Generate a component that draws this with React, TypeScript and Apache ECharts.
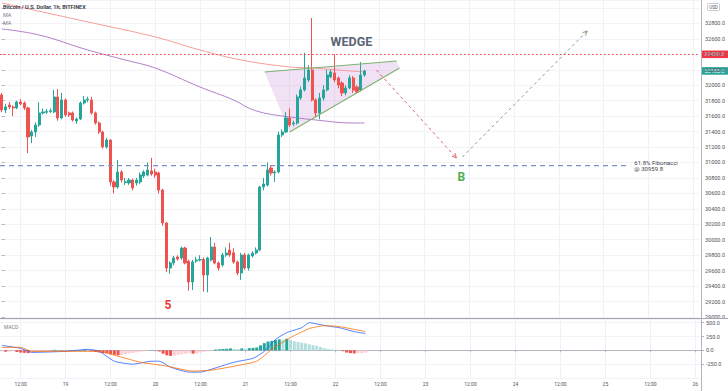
import React, { useEffect, useRef } from "react";
import * as echarts from "echarts";

const FONT = "Roboto, 'Noto Sans', sans-serif";
const START_DAY = 18;
const START_HOUR = 7;
const HOURS = 187;
const categories: string[] = Array.from({ length: HOURS }, (_, k) => {
  const t = START_HOUR + k;
  const d = START_DAY + Math.floor(t / 24);
  const h = t % 24;
  return `${d} ${String(h).padStart(2, "0")}:00`;
});

const opens = [
  31874, 31680, 31744, 31718, 31706, 31783, 31770, 31706, 31343, 31395,
  31485, 31641, 31650, 31660, 31654, 31848, 31576, 31809, 31641, 31641,
  31537, 31563, 31770, 31809, 31809, 31641, 31511, 31395, 31201, 31291,
  30748, 30683, 30877, 30740, 30735, 30773, 30735, 30748, 30825, 30838,
  30890, 30877, 30864, 30644, 30217, 29634, 29699, 29777, 29764, 29893,
  29720, 29453, 29725, 29738, 29745, 29544, 29738, 29906, 29699, 29673,
  29803, 29867, 29830, 29712, 29570, 29803, 29634, 29790, 29828, 29867,
  30683, 30709, 30929, 30864, 30877, 31356, 31395, 31576, 31500, 31511,
  31835, 31939, 32068, 32197, 31809, 31641, 31835, 31939, 32107, 32159,
  32094, 32029, 31900, 31964, 32094, 31977, 31939, 32133,
];
const closes = [
  31680, 31718, 31718, 31706, 31783, 31757, 31706, 31330, 31395, 31485,
  31641, 31654, 31660, 31670, 31848, 31576, 31809, 31615, 31615, 31550,
  31563, 31770, 31809, 31820, 31641, 31511, 31395, 31201, 31291, 30748,
  30683, 30877, 30773, 30750, 30773, 30670, 30773, 30838, 30877, 30903,
  30851, 30838, 30644, 30217, 29634, 29699, 29764, 29751, 29893, 29700,
  29453, 29712, 29738, 29745, 29544, 29764, 29906, 29699, 29634, 29803,
  29828, 29803, 29712, 29570, 29803, 29634, 29803, 29828, 29867, 30683,
  30722, 30903, 30864, 30877, 31356, 31395, 31576, 31485, 31511, 31848,
  31939, 32094, 32197, 31809, 31641, 31835, 31939, 32133, 32172, 32068,
  32003, 31900, 31964, 32094, 31939, 31913, 32133, 32185,
];
const highs = [
  31900, 31760, 31780, 31740, 31800, 31820, 31790, 31720, 31420, 31520,
  31780, 31700, 31690, 31700, 31939, 31950, 31900, 31830, 31660, 31660,
  31580, 31790, 31860, 31850, 31850, 31660, 31530, 31410, 31320, 31300,
  30770, 31032, 30900, 30800, 30800, 30790, 30800, 30870, 30900, 31000,
  31060, 30920, 30880, 30660, 30230, 29720, 29790, 29800, 29910, 29910,
  29740, 29740, 29780, 29800, 29770, 29780, 30036, 29960, 29720, 29830,
  29900, 29960, 29890, 29730, 29830, 29830, 29820, 29850, 29900, 30700,
  30800, 31000, 30960, 30900, 31400, 31430, 31650, 31700, 31540, 31880,
  31980, 32420, 32260, 32870, 31830, 31900, 32000, 32200, 32200, 32400,
  32110, 32050, 32000, 32130, 32120, 32000, 32300, 32200,
];
const lows = [
  31650, 31640, 31690, 31600, 31690, 31740, 31680, 31120, 31250, 31330,
  31460, 31620, 31630, 31640, 31640, 31540, 31560, 31590, 31590, 31530,
  31500, 31550, 31750, 31780, 31620, 31490, 31370, 31180, 31180, 30700,
  30600, 30660, 30740, 30710, 30710, 30640, 30700, 30720, 30800, 30820,
  30830, 30800, 30600, 30180, 29580, 29560, 29670, 29730, 29740, 29680,
  29340, 29350, 29700, 29720, 29330, 29320, 29720, 29680, 29600, 29650,
  29780, 29780, 29690, 29540, 29480, 29610, 29600, 29770, 29810, 29850,
  30640, 30690, 30830, 30750, 30860, 31330, 31380, 31460, 31470, 31490,
  31810, 31920, 32040, 31790, 31580, 31560, 31800, 31920, 32090, 32040,
  31960, 31860, 31870, 31950, 31900, 31890, 31920, 32110,
];

const macdHist = [
  -20, -25, -25, -15, -30, -40, -45, -50, -45, -30,
  -20, -15, -10, -5, 10, 5, -5, -3, -5, -5,
  -3, 5, 15, 10, -10, -30, -40, -50, -55, -70,
  -80, -90, -85, -70, -55, -45, -35, -25, -15, -5,
  5, 3, -20, -60, -90, -100, -95, -80, -70, -60,
  -50, -60, -55, -35, -25, -15, -5, 15, 20, 25,
  30, 35, 30, 25, 35, 30, 40, 45, 50, 90,
  130, 160, 170, 185, 200, 195, 210, 190, 165, 150,
  140, 125, 110, 95, 80, 60, 40, 25, 15, 10,
  5, -15, -40, -50, -55, -50, -50, -40,
];
const macdLine = [
  [0, 89], [5, 36], [8, -36], [17, -18], [23, 18], [26, -18], [30, -196], [35, -250],
  [40, -196], [42, -196], [45, -304], [50, -393], [53, -393], [56, -339], [62, -214],
  [67, -143], [70, -18], [73, 196], [76, 321], [80, 410], [82, 500], [85, 464],
  [88, 429], [90, 410], [94, 339], [97, 304],
];
const signalLine = [
  [0, 54], [5, 54], [8, -18], [17, -18], [26, -18], [31, -107], [37, -214], [44, -286],
  [51, -375], [56, -357], [62, -286], [68, -196], [72, 18], [77, 232], [82, 393],
  [86, 446], [90, 429], [97, 339],
];
const maRed = [
  [0, 33065], [6, 33000], [23, 32819], [41, 32625], [53, 32456], [64, 32327],
  [77, 32236], [83, 32223], [93, 32185], [97, 32172],
];
const maPurple = [
  [0, 32728], [10, 32650], [23, 32456], [33, 32327], [41, 32223], [53, 31977],
  [62, 31809], [66, 31706], [69, 31654], [73, 31615], [84, 31550], [94, 31511], [97, 31511],
];

const RESISTANCE = 32400;
const LAST_PRICE = 32185;
const FIB = 30959.8;
const wedgeTop = [[70.3, 32172], [105.6, 32314]];
const wedgeBottom = [[77, 31395], [106.4, 32223]];
const redArrow = [[100.2, 32197], [121.6, 31058]];
const greenArrow = [[123.2, 31071], [156.6, 32702]];
const fibLineEnd = 168;
const labels = {
  wedge: { text: "WEDGE", at: [93.5, 32572] },
  five: { text: "5", at: [44.4, 29155] },
  b: { text: "B", at: [122.9, 30812] },
  fib: { text: "61.8% Fibonacci\n@ 30959.8", at: [169.2, FIB] },
};

const isLabelHour = (_i: number, v: string) => v.endsWith(" 00:00") || v.endsWith(" 12:00");
const fmtHour = (v: string) => (v.endsWith(" 00:00") ? v.split(" ")[0] : "12:00");

function chevron(p0: number[], p1: number[], size: number) {
  const dx = p1[0] - p0[0];
  const dy = p1[1] - p0[1];
  const len = Math.hypot(dx, dy);
  const ux = dx / len;
  const uy = dy / len;
  const a = Math.PI / 7;
  const rot = (ang: number) => [
    p1[0] - size * (ux * Math.cos(ang) - uy * Math.sin(ang)),
    p1[1] - size * (ux * Math.sin(ang) + uy * Math.cos(ang)),
  ];
  return [rot(a), p1, rot(-a)];
}

export default function App() {
  const ref = useRef<HTMLDivElement>(null);
  useEffect(() => {
    if (!ref.current) return;
    const chart = echarts.init(ref.current, undefined, { renderer: "svg" });
    const candleData = opens.map((o, i) => [o, closes[i], lows[i], highs[i]]);
    const axisLabelColor = "#50535e";
    const option: any = {
      animation: false,
      backgroundColor: "#ffffff",
      grid: [
        { left: 0, top: 0, width: 701, height: 317 },
        { left: 0, top: 319, width: 701, height: 59 },
      ],
      xAxis: [
        {
          type: "category", gridIndex: 0, data: categories, boundaryGap: true,
          axisLine: { show: false }, axisTick: { show: false }, axisLabel: { show: false },
          splitLine: { show: true, interval: isLabelHour, alignWithLabel: true, lineStyle: { color: "#eff1f6", width: 1 } },
        },
        { type: "value", gridIndex: 0, min: -0.5, max: HOURS - 0.5, show: false },
        {
          type: "category", gridIndex: 1, data: categories, boundaryGap: true,
          axisLine: { show: true, lineStyle: { color: "#b2b5be", width: 1 } },
          axisTick: { show: true, interval: isLabelHour, alignWithLabel: true, length: 2, lineStyle: { color: "#b2b5be" } },
          axisLabel: { show: true, interval: isLabelHour, formatter: fmtHour, fontSize: 5, color: axisLabelColor, margin: 3, fontFamily: FONT },
          splitLine: { show: true, interval: isLabelHour, alignWithLabel: true, lineStyle: { color: "#eff1f6", width: 1 } },
        },
      ],
      yAxis: [
        {
          type: "value", gridIndex: 0, position: "right", min: 29000, max: 33103, interval: 200,
          axisLine: { show: false },
          axisTick: { show: true, length: 3, lineStyle: { color: "#b2b5be" } },
          axisLabel: {
            show: true, showMaxLabel: false, fontSize: 5.5, color: axisLabelColor, margin: 6, fontFamily: FONT,
            formatter: (v: number) => (v >= 33000 ? "" : v.toFixed(1)),
          },
          splitLine: { show: true, lineStyle: { color: "#f2f3f7", width: 1 } },
        },
        {
          type: "value", gridIndex: 1, position: "right", min: -500, max: 567, interval: 250,
          axisLine: { show: false },
          axisTick: { show: true, length: 3, lineStyle: { color: "#b2b5be" } },
          axisLabel: { show: true, showMaxLabel: false, showMinLabel: false, fontSize: 5.5, color: axisLabelColor, margin: 5, fontFamily: FONT, formatter: (v: number) => v.toFixed(1) },
          splitLine: { show: true, lineStyle: { color: "#f2f3f7", width: 1 } },
        },
      ],
      series: [
        {
          type: "custom", name: "wedgeFill", xAxisIndex: 1, yAxisIndex: 0, z: 1, silent: true,
          data: [[100, 31000]],
          renderItem: (_p: any, api: any) => {
            const A = api.coord(wedgeTop[0]);
            const B = api.coord(wedgeTop[1]);
            const C = api.coord(wedgeBottom[1]);
            const D = api.coord(wedgeBottom[0]);
            return { type: "polygon", shape: { points: [A, B, C, D] }, style: { fill: "rgba(206,147,216,0.28)", stroke: "none" } };
          },
        },
        {
          type: "line", name: "MA1", xAxisIndex: 0, yAxisIndex: 0, data: maRed, smooth: 0.4,
          symbol: "none", lineStyle: { color: "#f4938b", width: 0.9 }, z: 2, silent: true,
        },
        {
          type: "line", name: "MA2", xAxisIndex: 0, yAxisIndex: 0, data: maPurple, smooth: 0.4,
          symbol: "none", lineStyle: { color: "#a970c4", width: 0.9 }, z: 2, silent: true,
        },
        {
          type: "candlestick", name: "BTCUSD", xAxisIndex: 0, yAxisIndex: 0, data: candleData,
          barWidth: 2.6, z: 3,
          itemStyle: { color: "#26a69a", color0: "#ef5350", borderColor: "#26a69a", borderColor0: "#ef5350", borderWidth: 1 },
          markLine: {
            silent: true, symbol: "none", label: { show: false },
            data: [{ yAxis: RESISTANCE, lineStyle: { color: "#f23645", type: [1.5, 2.5], width: 1 } }],
          },
        },
        {
          type: "custom", name: "annotations", xAxisIndex: 1, yAxisIndex: 0, z: 5, silent: true,
          data: [[100, 31000]],
          renderItem: (_p: any, api: any) => {
            const A = api.coord(wedgeTop[0]);
            const B = api.coord(wedgeTop[1]);
            const C = api.coord(wedgeBottom[1]);
            const D = api.coord(wedgeBottom[0]);
            const r0 = api.coord(redArrow[0]);
            const r1 = api.coord(redArrow[1]);
            const g0 = api.coord(greenArrow[0]);
            const g1 = api.coord(greenArrow[1]);
            const f0 = api.coord([-0.5, FIB]);
            const f1 = api.coord([fibLineEnd, FIB]);
            const w = api.coord(labels.wedge.at);
            const fv = api.coord(labels.five.at);
            const bb = api.coord(labels.b.at);
            const fl = api.coord(labels.fib.at);
            return {
              type: "group",
              children: [
                { type: "line", shape: { x1: f0[0], y1: f0[1], x2: f1[0], y2: f1[1] }, style: { stroke: "#7d8fc6", lineWidth: 1.3, lineDash: [5, 4] } },
                { type: "line", shape: { x1: A[0], y1: A[1], x2: B[0], y2: B[1] }, style: { stroke: "#7fb36f", lineWidth: 1.1 } },
                { type: "line", shape: { x1: D[0], y1: D[1], x2: C[0], y2: C[1] }, style: { stroke: "#7fb36f", lineWidth: 1.1 } },
                { type: "line", shape: { x1: r0[0], y1: r0[1], x2: r1[0], y2: r1[1] }, style: { stroke: "#e06666", lineWidth: 1, lineDash: [3, 3] } },
                { type: "polyline", shape: { points: chevron(r0, r1, 5) }, style: { stroke: "#e06666", lineWidth: 1, fill: "none" } },
                { type: "line", shape: { x1: g0[0], y1: g0[1], x2: g1[0], y2: g1[1] }, style: { stroke: "#86a385", lineWidth: 1, lineDash: [3, 3] } },
                { type: "polyline", shape: { points: chevron(g0, g1, 5) }, style: { stroke: "#86a385", lineWidth: 1, fill: "none" } },
                { type: "text", x: w[0], y: w[1], style: { text: labels.wedge.text, fill: "#5b6675", font: `bold 12.5px ${FONT}`, align: "center", verticalAlign: "middle" } },
                { type: "text", x: fv[0], y: fv[1], style: { text: labels.five.text, fill: "#e53935", font: `bold 12px ${FONT}`, align: "center", verticalAlign: "middle" } },
                { type: "text", x: bb[0], y: bb[1], style: { text: labels.b.text, fill: "#4caf50", font: `bold 12px ${FONT}`, align: "center", verticalAlign: "middle" } },
                { type: "text", x: fl[0], y: fl[1], style: { text: labels.fib.text, fill: "#434651", font: `6px ${FONT}`, align: "left", verticalAlign: "middle", lineHeight: 6.5 } },
              ],
            };
          },
        },
        {
          type: "bar", name: "Histogram", xAxisIndex: 2, yAxisIndex: 1, data: macdHist, barWidth: 3, z: 2,
          itemStyle: {
            color: (p: any) => {
              const i = p.dataIndex;
              const v = macdHist[i];
              const prev = i > 0 ? macdHist[i - 1] : v;
              if (v >= 0) return v >= prev ? "#26a69a" : "#b2dfdb";
              return v < prev ? "#ef5350" : "#ffcdd2";
            },
          },
        },
        {
          type: "line", name: "MACD", xAxisIndex: 2, yAxisIndex: 1, data: macdLine, smooth: 0.2,
          symbol: "none", lineStyle: { color: "#2962ff", width: 0.8 }, z: 3,
        },
        {
          type: "line", name: "Signal", xAxisIndex: 2, yAxisIndex: 1, data: signalLine, smooth: 0.2,
          symbol: "none", lineStyle: { color: "#ff6d00", width: 0.8 }, z: 3,
        },
      ],
    };
    chart.setOption(option);

    const yRes = chart.convertToPixel({ yAxisIndex: 0 }, RESISTANCE) as number;
    const yLast = chart.convertToPixel({ yAxisIndex: 0 }, LAST_PRICE) as number;
    const priceBox = (y: number, color: string, text: string) => ({
      type: "group",
      z: 100,
      children: [
        { type: "rect", shape: { x: 701, y: y - 3.8, width: 27, height: 7.6 }, style: { fill: color } },
        { type: "text", x: 714.5, y, style: { text, fill: "#ffffff", font: `5.5px ${FONT}`, align: "center", verticalAlign: "middle" } },
      ],
    });
    chart.setOption({
      graphic: [
        { type: "line", z: 50, shape: { x1: 0, y1: 318.5, x2: 728, y2: 318.5 }, style: { stroke: "#a3a6af", lineWidth: 1 } },
        { type: "line", z: 50, shape: { x1: 701.5, y1: 0, x2: 701.5, y2: 391 }, style: { stroke: "#b2b5be", lineWidth: 1 } },
        { type: "text", z: 50, x: 3, y: 7, style: { text: "Bitcoin / U.S. Dollar, 1h, BITFINEX", fill: "#2a2e39", font: `600 5.5px ${FONT}`, verticalAlign: "middle" } },
        { type: "text", z: 50, x: 3, y: 15, style: { text: "MA", fill: "#787b86", font: `5.5px ${FONT}`, verticalAlign: "middle" } },
        { type: "text", z: 50, x: 3, y: 23, style: { text: "MA", fill: "#787b86", font: `5.5px ${FONT}`, verticalAlign: "middle" } },
        { type: "text", z: 50, x: 4, y: 327, style: { text: "MACD", fill: "#787b86", font: `5px ${FONT}`, verticalAlign: "middle" } },
        {
          type: "group", z: 100,
          children: [
            { type: "rect", shape: { x: 707.5, y: 3.5, width: 12, height: 7, r: 1 }, style: { fill: "#ffffff", stroke: "#b2b5be", lineWidth: 0.7 } },
            { type: "text", x: 713.5, y: 7, style: { text: "USD", fill: "#50535e", font: `4.5px ${FONT}`, align: "center", verticalAlign: "middle" } },
          ],
        },
        priceBox(yRes, "#f23645", RESISTANCE.toFixed(1)),
        priceBox(yLast, "#26a69a", LAST_PRICE.toFixed(1)),
      ],
    });
    return () => chart.dispose();
  }, []);
  return <div ref={ref} style={{ position: "absolute", left: 0, top: 0, width: 728, height: 391, background: "#fff" }} />;
}
